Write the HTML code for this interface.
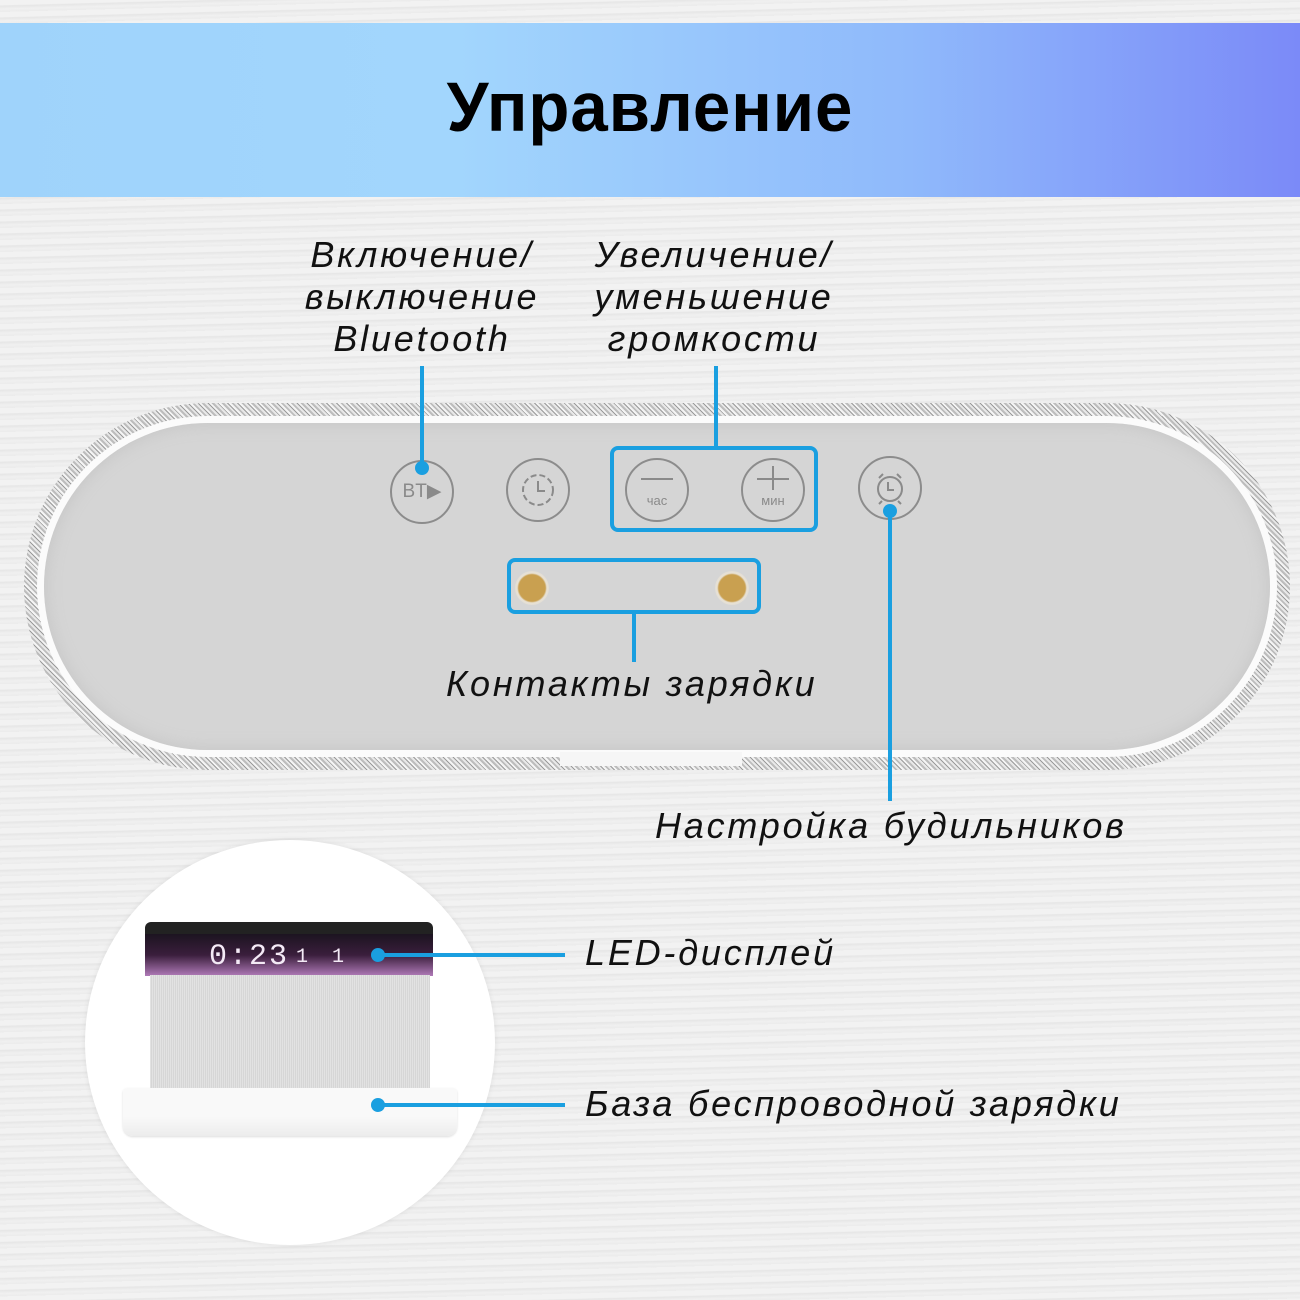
<!DOCTYPE html>
<html><head><meta charset="utf-8"><style>
body{margin:0;width:1300px;height:1300px;overflow:hidden;position:relative;font-family:"Liberation Sans",sans-serif;
background:repeating-linear-gradient(178.5deg,#f2f2f2 0px,#f2f2f2 5px,#e6e6e6 6px,#f0f0f0 9px,#ebebeb 12px);}
.hdr{position:absolute;left:0;top:23px;width:1300px;height:174px;background:linear-gradient(90deg,#9fd3fb 0%,#a2d6fd 35%,#8fb9fb 70%,#7b8af8 100%);}
.hdr h1{margin:0;position:absolute;left:0;right:0;top:49px;text-align:center;font-size:70px;font-weight:bold;line-height:1;letter-spacing:1px;color:#000;transform:scaleX(0.96);}
.lbl{position:absolute;font-style:italic;font-size:36px;letter-spacing:2.8px;color:#111;line-height:42px;white-space:nowrap;}
.c{text-align:center;}
.ln{position:absolute;background:#1a9fe0;}
.dot{position:absolute;width:14px;height:14px;border-radius:50%;background:#1a9fe0;}
.btn{position:absolute;width:64px;height:64px;border-radius:50%;border:2px solid #8c8c8c;box-sizing:border-box;color:#8a8a8a;font-size:16px;text-align:center;}
</style></head><body>
<div class="hdr"><h1>Управление</h1></div>

<div class="lbl c" style="left:272px;width:300px;top:234px">Включение/<br>выключение<br>Bluetooth</div>
<div class="lbl c" style="left:564px;width:300px;top:234px">Увеличение/<br>уменьшение<br>громкости</div>

<!-- speaker -->
<div style="position:absolute;left:24px;top:403px;width:1266px;height:367px;border-radius:184px;background:repeating-linear-gradient(45deg,#bdbdbd 0 2px,#e8e8e8 2px 4px,#9a9a9a 4px 5px,#f4f4f4 5px 7px);"></div>
<div style="position:absolute;left:37px;top:416px;width:1240px;height:341px;border-radius:171px;background:#fbfbfb;"></div>
<div style="position:absolute;left:44px;top:423px;width:1226px;height:327px;border-radius:164px;background:#d5d5d5;box-shadow:inset 0 0 18px #c4c4c4;"></div>
<div style="position:absolute;left:560px;top:752px;width:182px;height:14px;background:#f6f6f6;"></div>

<div class="btn" style="left:390px;top:460px;line-height:60px;font-size:19px">BT▶</div>
<div class="btn" style="left:506px;top:458px;">
<svg width="60" height="60" viewBox="0 0 60 60"><circle cx="30" cy="30" r="15" fill="none" stroke="#8a8a8a" stroke-width="2" stroke-dasharray="6 3"/><path d="M30 21v10h7" fill="none" stroke="#8a8a8a" stroke-width="2"/></svg></div>
<div class="btn" style="left:625px;top:458px;"><div style="position:absolute;left:14px;top:18px;width:32px;height:2px;background:#8a8a8a"></div><div style="position:absolute;left:0;right:0;top:33px;font-size:13px">час</div></div>
<div class="btn" style="left:741px;top:458px;"><div style="position:absolute;left:14px;top:18px;width:32px;height:2px;background:#8a8a8a"></div><div style="position:absolute;left:29px;top:6px;width:2px;height:24px;background:#8a8a8a"></div><div style="position:absolute;left:0;right:0;top:33px;font-size:13px">мин</div></div>
<div class="btn" style="left:858px;top:456px;">
<svg width="60" height="60" viewBox="0 0 60 60"><circle cx="30" cy="31" r="12" fill="none" stroke="#8a8a8a" stroke-width="2"/><path d="M28 24v8h6M19 20l4-4M41 20l-4-4M22 43l-3 3M38 43l3 3" fill="none" stroke="#8a8a8a" stroke-width="2"/></svg></div>

<!-- blue boxes -->
<div style="position:absolute;left:610px;top:446px;width:208px;height:86px;border:4px solid #1a9fe0;border-radius:8px;box-sizing:border-box"></div>
<div style="position:absolute;left:507px;top:558px;width:254px;height:56px;border:4px solid #1a9fe0;border-radius:8px;box-sizing:border-box"></div>
<div style="position:absolute;left:515px;top:571px;width:34px;height:34px;border-radius:50%;background:radial-gradient(circle,#c9a050 0 55%,#e8e2d6 62%,#cfcfcf 100%)"></div>
<div style="position:absolute;left:715px;top:571px;width:34px;height:34px;border-radius:50%;background:radial-gradient(circle,#c9a050 0 55%,#e8e2d6 62%,#cfcfcf 100%)"></div>

<div class="ln" style="left:420px;top:366px;width:4px;height:102px"></div><div class="dot" style="left:415px;top:461px"></div>
<div class="ln" style="left:714px;top:366px;width:4px;height:80px"></div>
<div class="ln" style="left:632px;top:614px;width:4px;height:48px"></div>
<div class="ln" style="left:888px;top:511px;width:4px;height:290px"></div><div class="dot" style="left:883px;top:504px"></div>

<div class="lbl" style="left:446px;top:663px">Контакты зарядки</div>
<div class="lbl" style="left:655px;top:805px">Настройка будильников</div>

<!-- bottom circle -->
<div style="position:absolute;left:85px;top:840px;width:410px;height:405px;border-radius:50%;background:#fff;box-shadow:0 0 6px rgba(0,0,0,0.08)"></div>
<div style="position:absolute;left:145px;top:922px;width:288px;height:14px;border-radius:6px 6px 0 0;background:#222"></div>
<div style="position:absolute;left:145px;top:934px;width:288px;height:42px;background:linear-gradient(180deg,#1c1420 0%,#3a1e3c 50%,#b07ab8 100%);"></div>
<div style="position:absolute;left:209px;top:940px;font-family:'Liberation Mono',monospace;font-size:30px;color:#f4eaf6;letter-spacing:2px">0:23</div>
<div style="position:absolute;left:296px;top:946px;font-family:'Liberation Mono',monospace;font-size:20px;color:#f4eaf6">1 &nbsp;1</div>
<div style="position:absolute;left:150px;top:975px;width:280px;height:115px;background:repeating-linear-gradient(90deg,#e2e2e2 0 1px,#d6d6d6 1px 2px);"></div>
<div style="position:absolute;left:123px;top:1088px;width:334px;height:48px;border-radius:4px 4px 10px 10px;background:linear-gradient(180deg,#f9f9f9 0 60%,#ececec 100%);box-shadow:0 1px 2px #ddd"></div>

<div class="dot" style="left:371px;top:948px"></div><div class="ln" style="left:378px;top:953px;width:187px;height:4px"></div>
<div class="dot" style="left:371px;top:1098px"></div><div class="ln" style="left:378px;top:1103px;width:187px;height:4px"></div>
<div class="lbl" style="left:585px;top:932px">LED-дисплей</div>
<div class="lbl" style="left:585px;top:1083px">База беспроводной зарядки</div>
</body></html>
